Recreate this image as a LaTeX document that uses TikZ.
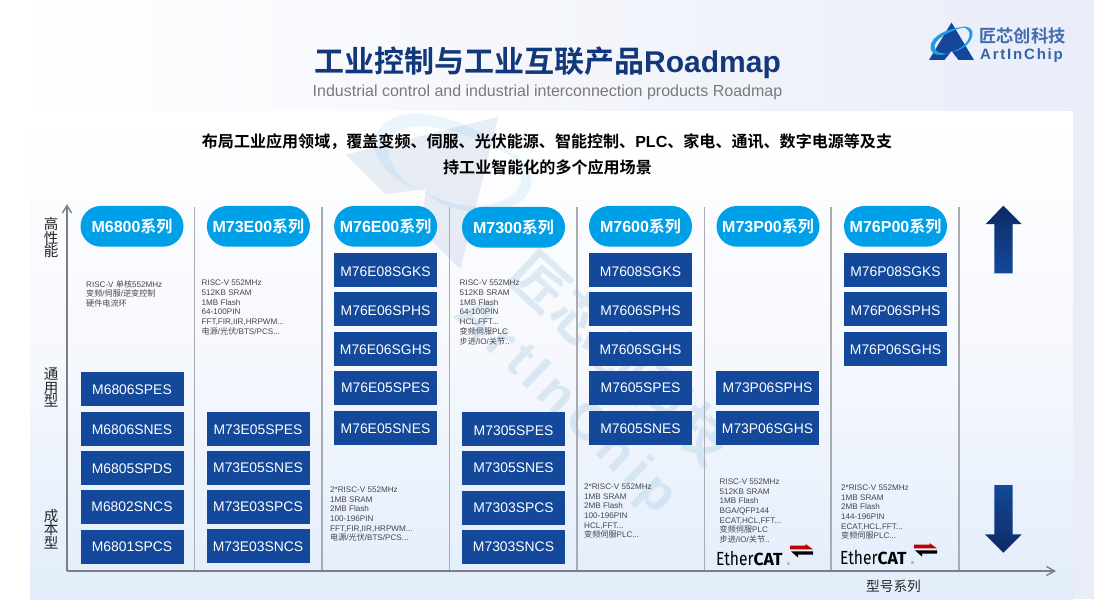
\documentclass[tikz,border=0pt]{standalone}
\usepackage{fontspec}
\setmainfont{Liberation Sans}
\newfontfamily\cjk{Noto Sans CJK SC}[BoldFont={Noto Sans CJK SC Bold}]
\newfontfamily\wmfont{Liberation Sans}[LetterSpace=12]
\newfontfamily\logofont{Liberation Sans}[LetterSpace=12]
\newfontfamily\ecfont{Fira Sans}
\newcommand{\zh}[1]{{\cjk #1}}
\definecolor{chipblue}{HTML}{14489A}
\definecolor{pillblue}{HTML}{00A0E9}
\definecolor{titleblue}{HTML}{12377A}
\definecolor{arrowdark}{HTML}{0D2A66}
\definecolor{spec}{HTML}{45454F}
\definecolor{axisgray}{HTML}{7C7F86}
\definecolor{sepgray}{HTML}{A8ABB2}
\definecolor{logoblue}{HTML}{14479A}
\definecolor{swoosh}{HTML}{1E9DE2}
\definecolor{wmtext}{HTML}{A9CBE3}
\definecolor{headend}{HTML}{E9EDF8}
\definecolor{panelmid}{HTML}{F6F8FD}
\definecolor{panelend}{HTML}{E2EDFB}
\tikzset{
  chip/.style={fill=chipblue,text=white,minimum width=103pt,minimum height=34pt,inner sep=0pt,font=\fontsize{13.9}{14}\selectfont},
  pill/.style={fill=pillblue,text=white,minimum width=103pt,minimum height=40.7pt,inner sep=0pt,rounded corners=20.3pt,font=\fontsize{16}{16}\selectfont\bfseries},
  specs/.style={anchor=north west,align=left,inner sep=0pt,text=spec,font=\fontsize{8.1}{9.7}\selectfont},
  vlabel/.style={align=center,inner sep=0pt,text=black!85,font=\fontsize{14.5}{13.6}\selectfont\cjk},
  sepline/.style={draw=sepgray,line width=1.1pt},
}
\newcommand{\logoshape}{%
  \fill[logoblue] (0,-37.5) -- (22.5,0) -- (7,0) -- (0,-9) -- (-7,0) -- (-22.5,0) -- cycle;
  \fill[swoosh] (-21,-13) .. controls (-21,-25) and (0,-33) .. (14,-33) .. controls (4,-31) and (-15,-24) .. (-17,-14) .. controls (-18,-8) and (-8,-5) .. (-2,-7) .. controls (-12,-3) and (-21,-5) .. (-21,-13) -- cycle;
  \fill[swoosh] (-2,-8) .. controls (8,-9) and (19,-18) .. (18,-27) .. controls (17,-31) and (13,-33) .. (9,-33) .. controls (18,-35) and (22,-30) .. (21,-25) .. controls (19,-15) and (8,-8) .. (-2,-8) -- cycle;
}
\newcommand{\ethercat}[3]{%
  \node[anchor=base west,inner sep=0pt,xscale=.82,font=\fontsize{19}{19}\selectfont\ecfont,text=black] (#3e) at (#1,#2) {Ether};
  \node[anchor=base west,inner sep=0pt,font=\fontsize{17.5}{18}\selectfont\ecfont\bfseries,text=black] (#3c) at (#1+37.3,#2) {CAT};
  \node[anchor=base west,inner sep=0pt,font=\fontsize{4}{4}\selectfont,text=black!70] (#3r) at (#1+71,#2) {®};
  \fill[red!75!black] (#1+74,#2-19.3) -- (#1+89.5,#2-19.3) -- (#1+89.5,#2-21) -- (#1+97,#2-15.6) -- (#1+74,#2-15.6) -- cycle;
  \fill[black] (#1+75,#2-13.6) -- (#1+97,#2-13.6) -- (#1+97,#2-10.4) -- (#1+82,#2-10.4) -- (#1+82,#2-7.5) -- cycle;
}
\begin{document}
\begin{tikzpicture}[x=1pt,y=-1pt]
\useasboundingbox (0,0) rectangle (1094,615);
% backgrounds
\shade[left color=white,right color=headend] (0,0) rectangle (1094,615);
\fill[white] (0,599) rectangle (1094,615);
\fill[white] (0,0) rectangle (30,615);
\shade[top color=white,bottom color=panelend,middle color=panelmid] (30,112) rectangle (1073,599);
% watermark
\begin{scope}
\clip (30,112) rectangle (1073,599);
\begin{scope}[shift={(403,212)},rotate=-45,scale=3.6,opacity=.09]
  \logoshape
\end{scope}
\node[rotate=-43,inner sep=0pt,text=wmtext,opacity=.35,font=\fontsize{56}{56}\selectfont\cjk\bfseries] (wmzh) at (622,358) {匠芯创科技};
\node[rotate=-44,inner sep=0pt,text=wmtext,opacity=.35,font=\fontsize{52}{52}\selectfont\wmfont\bfseries] (wmen) at (565,406) {ArtInChip};
\end{scope}
% title
\node[inner sep=0pt,text=titleblue,font=\fontsize{30}{30}\selectfont\bfseries] (title) at (547.5,62.5) {\zh{工业控制与工业互联产品}Roadmap};
\node[inner sep=0pt,text=black!52,font=\fontsize{16}{16}\selectfont] (subtitle) at (547.5,92) {Industrial control and industrial interconnection products Roadmap};
\node[inner sep=0pt,text=black,font=\fontsize{16.05}{16}\selectfont\bfseries] (lead1) at (547,142) {\zh{布局工业应用领域，覆盖变频、伺服、光伏能源、智能控制、}PLC\zh{、家电、通讯、数字电源等及支}};
\node[inner sep=0pt,text=black,font=\fontsize{16.05}{16}\selectfont\bfseries] (lead2) at (547.5,167) {\zh{持工业智能化的多个应用场景}};
% logo
\begin{scope}[shift={(951.5,60)}]
  \logoshape
\end{scope}
\node[inner sep=0pt,text=logoblue!80!white,font=\fontsize{17.3}{17}\selectfont\cjk\bfseries] (logozh) at (1022.5,36) {匠芯创科技};
\node[inner sep=0pt,text=logoblue!85!white,font=\fontsize{15}{15}\selectfont\logofont\bfseries] (logoen) at (1021.5,55.5) {ArtInChip};
% separators
\foreach \x in {194.5,322,449.5,577,704.5,831,959}
  \draw[sepline] (\x,207) -- (\x,571);
% axes
\coordinate (origin) at (67,571);
\coordinate (ytip) at (67,205.5);
\coordinate (xtip) at (1054.5,571);
\draw[axisgray,line width=1.5pt] (origin) -- (ytip);
\draw[axisgray,line width=1.5pt] (origin) -- (xtip);
\draw[axisgray,line width=1.4pt,line join=miter] (62.5,213) -- (ytip) -- (71.5,213);
\draw[axisgray,line width=1.4pt,line join=miter] (1046.5,566.5) -- (xtip) -- (1046.5,575.5);
% axis labels
\node[vlabel] (vhigh) at (51,237.5) {高\\性\\能};
\node[vlabel] (vgen) at (51,387.5) {通\\用\\型};
\node[vlabel] (vcost) at (51,529) {成\\本\\型};
\node[inner sep=0pt,text=black!85,font=\fontsize{13.7}{14}\selectfont\cjk] (xlabel) at (893.5,586) {型号系列};
% pills
\foreach \t/\x/\y in {M6800/132/226.3,M73E00/258.4/226.3,M76E00/385.6/226.3,M7300/513.5/227.3,M7600/640.5/226.3,M73P00/768/226.3,M76P00/895.5/226.3}
  \node[pill] (p\t) at (\x,\y) {\t\zh{系列}};
% chips
\foreach \t/\x/\y/\h in {
  M6806SPES/132/389/11.9,M6806SNES/132/428.7/12.5,M6805SPDS/132/468/11.9,M6802SNCS/132/507/9.9,M6801SPCS/132/546.5/10.9,
  M73E05SPES/258/428.7/12.5,M73E05SNES/258/468/9.9,M73E03SPCS/258/507/9.9,M73E03SNCS/258/546/11.9,
  M76E08SGKS/385.5/270/13.3,M76E06SPHS/385.5/309/13.5,M76E06SGHS/385.5/349/11.9,M76E05SPES/385.5/388/9.9,M76E05SNES/385.5/427.5/12.9,
  M7305SPES/513.5/429/13.9,M7305SNES/513.5/468/9.9,M7303SPCS/513.5/508/9.9,M7303SNCS/513.5/547/9.9,
  M7608SGKS/640.5/270/13.3,M7606SPHS/640.5/309/13.5,M7606SGHS/640.5/349/11.9,M7605SPES/640.5/388/9.9,M7605SNES/640.5/427.5/12.9,
  M73P06SPHS/767.5/388/9.9,M73P06SGHS/767.5/427.5/12.9,
  M76P08SGKS/895.5/270/13.3,M76P06SPHS/895.5/309/13.5,M76P06SGHS/895.5/349/11.9}
  \node[chip,text height=\h pt,text depth=0pt] (\t) at (\x,\y) {\t};
% specs
\node[specs] (s1) at (86,280) {RISC-V \zh{单核}552MHz\\\zh{变频}/\zh{伺服}/\zh{逆变控制}\\\zh{硬件电流环}};
\node[specs] (s2) at (201.5,280) {RISC-V 552MHz\\512KB SRAM\\1MB Flash\\64-100PIN\\FFT,FIR,IIR,HRPWM...\\\zh{电源}/\zh{光伏}/BTS/PCS...};
\node[specs] (s3) at (330,486.5) {2*RISC-V 552MHz\\1MB SRAM\\2MB Flash\\100-196PIN\\FFT,FIR,IIR,HRPWM...\\\zh{电源}/\zh{光伏}/BTS/PCS...};
\node[specs] (s4) at (459.5,280) {RISC-V 552MHz\\512KB SRAM\\1MB Flash\\64-100PIN\\HCL,FFT...\\\zh{变频伺服}PLC\\\zh{步进}/IO/\zh{关节}..};
\node[specs] (s5) at (584,483.5) {2*RISC-V 552MHz\\1MB SRAM\\2MB Flash\\100-196PIN\\HCL,FFT...\\\zh{变频伺服}PLC...};
\node[specs] (s6) at (719.5,478.5) {RISC-V 552MHz\\512KB SRAM\\1MB Flash\\BGA/QFP144\\ECAT,HCL,FFT...\\\zh{变频伺服}PLC\\\zh{步进}/IO/\zh{关节}..};
\node[specs] (s7) at (841,484.5) {2*RISC-V 552MHz\\1MB SRAM\\2MB Flash\\144-196PIN\\ECAT,HCL,FFT...\\\zh{变频伺服}PLC...};
% EtherCAT logos
\ethercat{716}{565}{ea}
\ethercat{840}{564}{eb}
% big arrows
\shade[top color=arrowdark,bottom color=chipblue,draw=none] (1003.3,205.7) -- (1021.7,224) -- (1012.7,224) -- (1012.7,273.3) -- (994.3,273.3) -- (994.3,224) -- (985.7,224) -- cycle;
\shade[top color=chipblue,bottom color=arrowdark,draw=none] (994.3,485) -- (1012.7,485) -- (1012.7,534.3) -- (1021.7,534.3) -- (1003.3,552.7) -- (985,534.3) -- (994.3,534.3) -- cycle;
\end{tikzpicture}
\end{document}
